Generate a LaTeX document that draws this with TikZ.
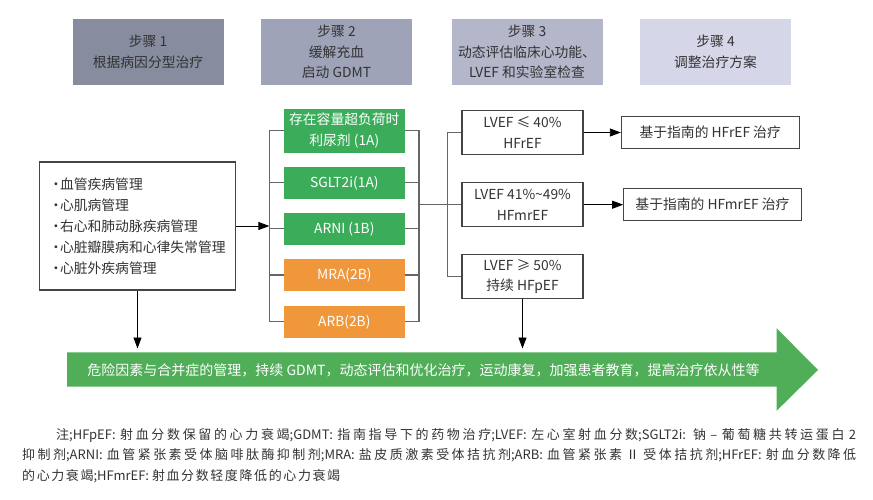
\documentclass[tikz,border=0pt]{standalone}
\usepackage{fontspec}
\setmainfont{Noto Sans CJK SC}
\usetikzlibrary{arrows.meta}
\definecolor{sA}{HTML}{878C9F}
\definecolor{sB}{HTML}{9FA3B8}
\definecolor{sC}{HTML}{B4B6C9}
\definecolor{sD}{HTML}{D5D7E8}
\definecolor{txtc}{HTML}{333333}
\definecolor{gr}{HTML}{3BAD5A}
\definecolor{orc}{HTML}{F0963B}
\definecolor{bandc}{HTML}{50AE58}
\definecolor{boxc}{HTML}{444444}
\definecolor{brkc}{HTML}{666666}
\tikzset{
  base/.style={inner sep=0pt, font=\fontsize{13.8}{20.5}\selectfont, align=center},
  stepbox/.style={base, minimum width=151pt, minimum height=66pt, text=txtc},
  drugbox/.style={base, minimum width=120.7pt, text=white, font=\fontsize{13.8}{21}\selectfont},
  framebox/.style={base, draw=boxc, line width=1.1pt, fill=white, text=txtc},
  brk/.style={draw=brkc, line width=1.3pt},
  arr/.style={draw=black, line width=0.9pt, -{Triangle[length=11pt,width=8pt]}},
}
\begin{document}
\begin{tikzpicture}[x=1pt,y=-1pt]
\useasboundingbox (0,0) rectangle (873,500);
% step header boxes
\node[stepbox, fill=sA] (s1) at (148,52) {步骤 1\\根据病因分型治疗};
\node[stepbox, fill=sB] (s2) at (336.5,52) {步骤 2\\缓解充血\\启动 GDMT};
\node[stepbox, fill=sC] (s3) at (527,52) {步骤 3\\动态评估临床心功能、\\LVEF 和实验室检查};
\node[stepbox, fill=sD] (s4) at (715.5,52) {步骤 4\\调整治疗方案};
% left list box
\node[framebox, align=left, text width=177pt, inner xsep=9.3pt, minimum height=128pt,
      font=\fontsize{13.8}{21.1}\selectfont] (L) at (137.5,226)
  {\makebox[11pt][l]{•}血管疾病管理\\
   \makebox[11pt][l]{•}心肌病管理\\
   \makebox[11pt][l]{•}右心和肺动脉疾病管理\\
   \makebox[11pt][l]{•}心脏瓣膜病和心律失常管理\\
   \makebox[11pt][l]{•}心脏外疾病管理};
% drug boxes
\node[drugbox, fill=gr, minimum height=43.7pt] (d1) at (344.3,130.8) {存在容量超负荷时\\利尿剂 (1A)};
\node[drugbox, fill=gr, minimum height=31.7pt] (d2) at (344.3,182.8) {SGLT2i(1A)};
\node[drugbox, fill=gr, minimum height=31.7pt] (d3) at (344.3,228.8) {ARNI (1B)};
\node[drugbox, fill=orc, minimum height=31.7pt] (d4) at (344.3,275) {MRA(2B)};
\node[drugbox, fill=orc, minimum height=31.7pt] (d5) at (344.3,321.8) {ARB(2B)};
% LVEF boxes
\node[framebox, minimum width=121pt, minimum height=43.6pt] (v1) at (522.5,132.5) {LVEF ≤ 40\%\\HFrEF};
\node[framebox, minimum width=121pt, minimum height=43.6pt] (v2) at (522.5,204.7) {LVEF 41\%\textasciitilde 49\%\\HFmrEF};
\node[framebox, minimum width=121pt, minimum height=43.6pt] (v3) at (522.5,276.5) {LVEF ≥ 50\%\\持续 HFpEF};
% result boxes
\node[framebox, minimum width=177.7pt, minimum height=32pt] (r1) at (710.2,132.7) {基于指南的 HFrEF 治疗};
\node[framebox, minimum width=177.6pt, minimum height=32pt] (r2) at (712.5,204.7) {基于指南的 HFmrEF 治疗};
% bracket coordinates
\coordinate (bl) at (269.3,226);
\coordinate (br) at (419,204.7);
\coordinate (bv) at (447.3,204.7);
\coordinate (t1) at (0,348.5);
% left bracket
\draw[brk] (d1.west) -- (d1.west -| bl) -- (d5.west -| bl) -- (d5.west);
\foreach \n in {d2,d3,d4} \draw[brk] (\n.west) -- (\n.west -| bl);
% right bracket
\draw[brk] (d1.east) -- (d1.east -| br) -- (d5.east -| br) -- (d5.east);
\foreach \n in {d2,d3,d4} \draw[brk] (\n.east) -- (\n.east -| br);
\draw[brk] (br) -- (v2.west);
% LVEF bracket
\draw[brk] (v1.west) -- (v1.west -| bv) -- (v3.west -| bv) -- (v3.west);
% arrows
\draw[arr] (L.east) -- (L.east -| bl);
\draw[arr] (v1.east) -- (v1.east -| r1.west);
\draw[arr] (v2.east) -- (v2.east -| r2.west);
% big band arrow
\fill[bandc] (67,352.3) -- (776.7,352.3) -- (776.7,328.3) -- (818,370) -- (776.7,410.7) -- (776.7,386.7) -- (67,386.7) -- cycle;
\node[base, text=white, font=\fontsize{14}{16}\selectfont] (band) at (423.5,370.5)
  {危险因素与合并症的管理，持续 GDMT，动态评估和优化治疗，运动康复，加强患者教育，提高治疗依从性等};
\draw[arr] (L.south) -- (L.south |- t1);
\draw[arr] (v3.south) -- (v3.south |- t1);
% notes
\node[anchor=north west, inner sep=0pt, text width=834pt, align=justify, text=txtc,
      font=\fontsize{13}{20.5}\selectfont] (notes) at (22,428)
  {\XeTeXlinebreaklocale "zh"\XeTeXlinebreakskip=1.6pt plus 1pt\relax
   \hspace*{34pt}注;HFpEF: 射血分数保留的心力衰竭;GDMT: 指南指导下的药物治疗;LVEF: 左心室射血分数;SGLT2i: 钠 – 葡萄糖共转运蛋白 2\linebreak
   抑制剂;ARNI: 血管紧张素受体脑啡肽酶抑制剂;MRA: 盐皮质激素受体拮抗剂;ARB: 血管紧张素 Ⅱ 受体拮抗剂;HFrEF: 射血分数降低\linebreak
   的心力衰竭;HFmrEF: 射血分数轻度降低的心力衰竭};
\end{tikzpicture}
\end{document}
